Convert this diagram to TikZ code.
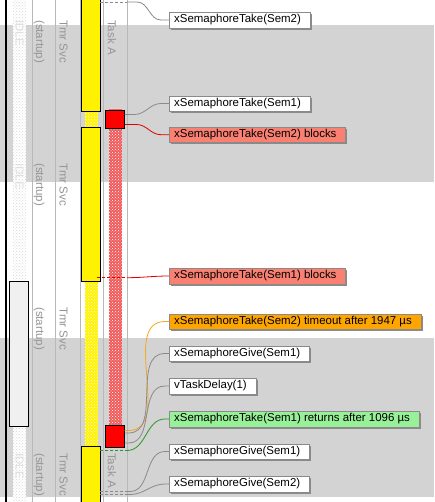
\documentclass[tikz,border=0pt]{standalone}
\usepackage{fontspec}
\setmainfont{Liberation Sans}
\usetikzlibrary{patterns,shadows}
\definecolor{band}{HTML}{D3D3D3}
\definecolor{colline}{HTML}{B8B8B8}
\definecolor{lbl}{HTML}{959595}
\definecolor{conn}{HTML}{8A8A8A}
\definecolor{salmonc}{HTML}{FA8072}
\definecolor{orangec}{HTML}{FFA500}
\definecolor{greenc}{HTML}{98F098}
\definecolor{greenline}{HTML}{229922}
\definecolor{redh}{HTML}{F05A5A}
\definecolor{redline}{HTML}{E00000}
\definecolor{orangeline}{HTML}{F5A623}
\definecolor{idlebox}{HTML}{F0F0F0}
\begin{document}
\begin{tikzpicture}[x=1pt,y=-1pt,
  evt/.style={draw=conn, fill=white, anchor=west, text=black,
    font=\fontsize{11.45}{13}\selectfont, inner xsep=5pt, inner ysep=0pt,
    text height=8.3pt, text depth=2.6pt, minimum height=15.5pt,
    drop shadow={shadow xshift=2pt, shadow yshift=-2pt, fill=conn, opacity=1},
    execute at end node={\hspace*{4pt}}},
  collbl/.style={text=lbl, rotate=-90, anchor=west, inner sep=0pt,
    font=\fontsize{11.5}{13}\selectfont},
  idlelbl/.style={collbl, text=gray!25},
  conline/.style={draw=conn, line width=0.8pt},
  dashline/.style={line width=0.8pt, dash pattern=on 3pt off 2pt},
  runbar/.style={draw=black, fill=yellow, line width=0.8pt},
  redbox/.style={draw=black, fill=red, line width=0.8pt}]
\useasboundingbox (0,0) rectangle (434,502);
\clip (0,0) rectangle (434,502);
% background and bands
\fill[white] (0,0) rectangle (434,502);
\fill[band] (0,25) rectangle (434,182);
\fill[band] (0,338) rectangle (434,496.5);
% column lines
\foreach \cx in {32,55,80,103,127}
  \draw[colline, line width=0.9pt] (\cx,0) -- (\cx,502);
% idle hatched column
\fill[white] (13,0) rectangle (26,502);
\fill[pattern=crosshatch dots, pattern color=gray!30] (13,0) rectangle (26,502);
% rotated column labels
\foreach \ly/\k in {20/a,163/b,453/d} {
  \node[idlelbl] (idle\k) at (19.5,\ly) {IDLE};
}
\foreach \ly/\k in {20/a,163/b,307/c,453/d} {
  \node[collbl] (st\k) at (39,\ly) {(startup)};
  \node[collbl] (tmr\k) at (63.5,\ly) {Tmr Svc};
}
\node[collbl] (taskaa) at (112,20) {Task A};
\node[collbl] (taskad) at (112,453) {Task A};
% black time line
\draw[black, line width=2pt] (6,0) -- (6,502);
% idle box
\draw[fill=idlebox, draw=black, line width=0.8pt] (9,281) rectangle (28.7,426.5);
% yellow hatched (ready)
\foreach \ya/\yb in {111/127,281/446} {
  \fill[yellow] (85,\ya) rectangle (97.5,\yb);
  \fill[pattern=crosshatch dots, pattern color=white] (85,\ya) rectangle (97.5,\yb);
}
% yellow running bars
\draw[runbar] (81,-5) rectangle (100.5,111);
\draw[runbar] (81,127.5) rectangle (100.5,281.5);
\draw[runbar] (81,446.5) rectangle (100.5,510);
% red hatched (blocked)
\fill[redh] (109,109) rectangle (121.5,428);
\fill[pattern=crosshatch dots, pattern color=white] (109,109) rectangle (121.5,428);
% red boxes
\draw[redbox] (105.5,110.5) rectangle (124.5,128);
\draw[redbox] (105.5,425.5) rectangle (124.5,447);
% event labels
\node[evt] (t2) at (169,20) {xSemaphoreTake(Sem2)};
\node[evt] (t1) at (169,103.5) {xSemaphoreTake(Sem1)};
\node[evt, fill=salmonc] (b2) at (169,134.7) {xSemaphoreTake(Sem2) blocks};
\node[evt, fill=salmonc] (b1) at (169,276) {xSemaphoreTake(Sem1) blocks};
\node[evt, fill=orangec] (to2) at (169,321.5) {xSemaphoreTake(Sem2) timeout after 1947 µs};
\node[evt] (g1) at (169,353.5) {xSemaphoreGive(Sem1)};
\node[evt] (vd) at (169,386) {vTaskDelay(1)};
\node[evt, fill=greenc] (rt1) at (169,419) {xSemaphoreTake(Sem1) returns after 1096 µs};
\node[evt] (g1b) at (169,451.5) {xSemaphoreGive(Sem1)};
\node[evt] (g2) at (169,484) {xSemaphoreGive(Sem2)};
% connector anchor points
\coordinate (s1) at (100,2);
\coordinate (s1e) at (127,2);
\coordinate (s2) at (124.5,114.5);
\coordinate (s3) at (124.5,124.5);
\coordinate (s4) at (97,277.7);
\coordinate (s4e) at (127,277.7);
\coordinate (s5) at (124.5,430.5);
\coordinate (s6) at (124.5,433);
\coordinate (s7) at (124.5,443);
\coordinate (s8) at (100,450.5);
\coordinate (s8e) at (127,450.5);
\coordinate (s9) at (100,491.5);
\coordinate (s9e) at (127,491.5);
\coordinate (s10) at (100,494.5);
\coordinate (s10e) at (127,494.5);
% connectors
\draw[conn, dashline] (s1) -- (s1e);
\draw[conline] (s1e) -- ++(10,0) to[out=0,in=180] ([xshift=-8pt]t2.west) -- (t2.west);
\draw[conline] (s2) -- ++(10,0) to[out=0,in=180] ([xshift=-8pt]t1.west) -- (t1.west);
\draw[redline, line width=0.8pt] (s3) -- ++(12,0) to[out=0,in=180] ([xshift=-8pt]b2.west) -- (b2.west);
\draw[redline, dashline] (s4) -- (s4e);
\draw[redline, line width=0.8pt] (s4e) to[out=0,in=180] (b1.west);
\draw[orangeline, line width=0.8pt] (s5) -- ++(4,0) to[out=0,in=180] ([xshift=-4pt]to2.west) -- (to2.west);
\draw[conline] (s6) -- ++(4,0) to[out=0,in=180] ([xshift=-4pt]g1.west) -- (g1.west);
\draw[conline] (s7) -- ++(4,0) to[out=0,in=180] ([xshift=-4pt]vd.west) -- (vd.west);
\draw[greenline, dashline] (s8) -- (s8e);
\draw[greenline, line width=0.8pt] (s8e) to[out=0,in=180] ([xshift=-4pt]rt1.west) -- (rt1.west);
\draw[conn, dashline] (s9) -- (s9e);
\draw[conline] (s9e) -- ++(3,0) to[out=0,in=180] ([xshift=-4pt]g1b.west) -- (g1b.west);
\draw[conn, dashline] (s10) -- (s10e);
\draw[conline] (s10e) -- ++(3,0) to[out=0,in=180] ([xshift=-4pt]g2.west) -- (g2.west);
\end{tikzpicture}
\end{document}
